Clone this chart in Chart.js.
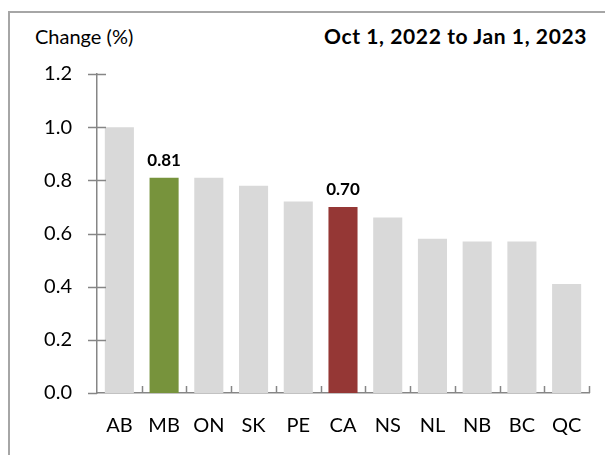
<!DOCTYPE html>
<html>
<head>
<meta charset="utf-8">
<script src="https://cdn.jsdelivr.net/npm/chart.js@4/dist/chart.umd.min.js"></script>
<style>
  body { margin: 0; background: #fff; }
  #wrap { position: relative; width: 605px; height: 455px; overflow: hidden; font-family: Lato, sans-serif; }
  #frame { position: absolute; left: 8px; top: 11px; width: 700px; height: 600px; border: 2px solid #a6a6a6; }
  #ylabel { position: absolute; left: 35px; top: 24px; font-size: 20px; color: #000; }
  #period { position: absolute; right: 18px; top: 23px; font-size: 21px; letter-spacing: 0.6px; font-weight: bold; color: #000; }
  #c { position: absolute; left: 0; top: 0; }
</style>
</head>
<body>
<div id="wrap">
  <div id="frame"></div>
  <div id="ylabel">Change (%)</div>
  <div id="period">Oct 1, 2022 to Jan 1, 2023</div>
  <canvas id="c" width="605" height="455"></canvas>
</div>
<script>
// provinces, sorted by change
const regions = ['AB', 'MB', 'ON', 'SK', 'PE', 'CA', 'NS', 'NL', 'NB', 'BC', 'QC'];
const change = [1.00, 0.81, 0.81, 0.78, 0.72, 0.70, 0.66, 0.58, 0.57, 0.57, 0.41];
const yTicks = [0.0, 0.2, 0.4, 0.6, 0.8, 1.0, 1.2];
const labelled = ['MB', 'CA']; // bars that get a value label

const barColours = {MB: '#77933C', CA: '#953735'};
const axisColour = '#868686';

// Excel-style ticks: crossing on the y axis, upward between categories on x
const axisTicks = {
  id: 'axisTicks',
  afterDatasetsDraw(chart) {
    const {ctx, chartArea, scales} = chart;
    ctx.save();
    ctx.strokeStyle = axisColour;
    ctx.lineWidth = 1.5;
    ctx.beginPath();
    yTicks.forEach(v => {
      const y = Math.round(scales.y.getPixelForValue(v)) + 0.5;
      ctx.moveTo(chartArea.left - 9, y);
      ctx.lineTo(chartArea.left + (v === 0 ? 0 : 9), y);
    });
    for (let i = 1; i <= regions.length; i++) {
      const x = (scales.x.getPixelForValue(i - 1) + (i < regions.length ? scales.x.getPixelForValue(i) : 2 * scales.x.getPixelForValue(i - 1) - scales.x.getPixelForValue(i - 2))) / 2;
      ctx.moveTo(Math.round(x) + 0.5, chartArea.bottom);
      ctx.lineTo(Math.round(x) + 0.5, chartArea.bottom - 7);
    }
    ctx.stroke();

    // value labels
    const meta = chart.getDatasetMeta(0);
    ctx.fillStyle = '#000';
    ctx.font = 'bold 17px Lato';
    ctx.textAlign = 'center';
    ctx.textBaseline = 'bottom';
    regions.forEach((r, i) => {
      if (!labelled.includes(r)) return;
      const bar = meta.data[i];
      ctx.fillText(change[i].toFixed(2), bar.x, bar.y - 9);
    });
    ctx.restore();
  }
};

new Chart(document.getElementById('c'), {
  type: 'bar',
  data: {
    labels: regions,
    datasets: [{
      data: change,
      backgroundColor: regions.map(r => barColours[r] || '#D9D9D9'),
      barPercentage: 0.65,
      categoryPercentage: 1.0
    }]
  },
  options: {
    responsive: false,
    animation: false,
    layout: { padding: { left: 0, top: 74, right: 16, bottom: 0 } },
    plugins: { legend: { display: false }, tooltip: { enabled: false } },
    scales: {
      x: {
        grid: { display: false, drawTicks: false },
        border: { color: axisColour, width: 1.5 },
        ticks: { color: '#000', font: { family: 'Lato', size: 20 }, padding: 21, maxRotation: 0 },
        afterFit(s) { s.height = 62; }
      },
      y: {
        min: 0,
        max: 1.2,
        afterBuildTicks(s) { s.ticks = yTicks.map(v => ({value: v})); },
        grid: { display: false, drawTicks: false },
        border: { color: axisColour, width: 1.5 },
        ticks: { color: '#000', font: { family: 'Lato', size: 20 }, padding: 25, callback: v => v.toFixed(1) },
        afterFit(s) { s.width = 97; }
      }
    }
  },
  plugins: [axisTicks]
});
</script>
</body>
</html>
